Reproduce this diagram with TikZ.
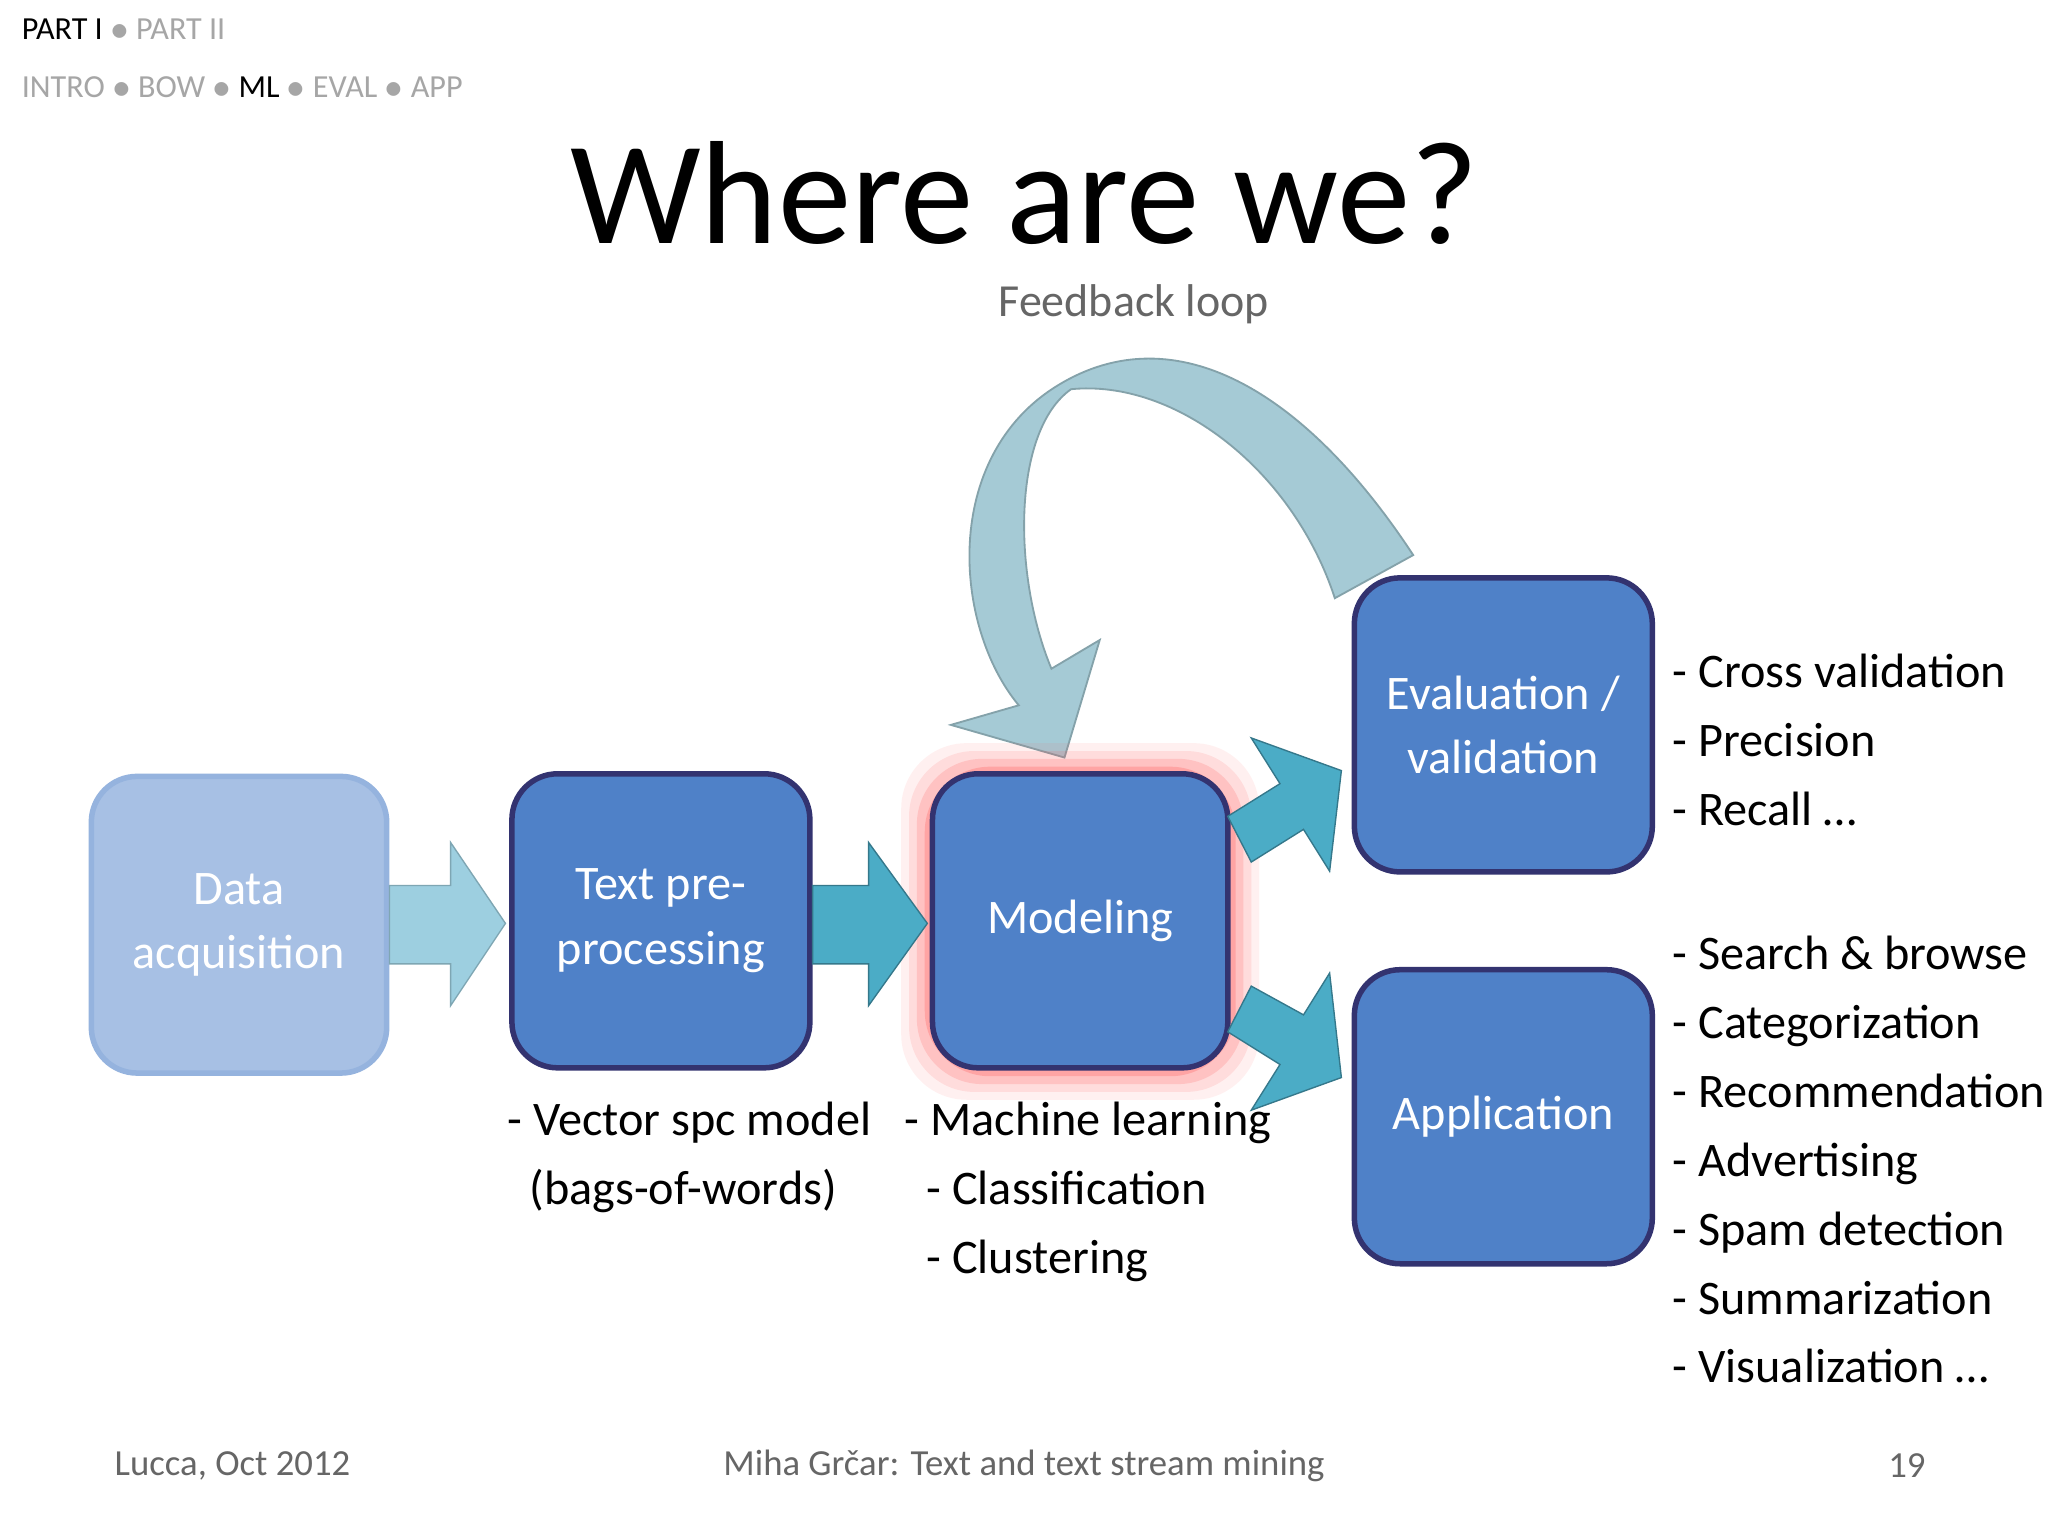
\documentclass[tikz,border=0pt]{standalone}
\usepackage{fontspec}
\setmainfont{Carlito}
\begin{document}
\begin{tikzpicture}[x=0.01cm,y=-0.01cm,
 box/.style={draw=blue!30!black!80, line width=1.2pt, rounded corners=0.35cm, fill=boxblue, text=white, align=center, inner sep=0, font=\fontsize{10.5}{12}\selectfont},
 lst/.style={anchor=north west, align=left, font=\fontsize{10.5}{12}\selectfont, inner sep=0},
 hdr/.style={anchor=west, font=\fontsize{7}{8}\selectfont, text=gray!70, inner sep=0}]
\definecolor{boxblue}{HTML}{4F81C8}
\definecolor{teal1}{HTML}{4BACC6}
\definecolor{teal2}{HTML}{9DCFE0}
\definecolor{fb}{HTML}{A5CAD5}
\useasboundingbox (0,0) rectangle (1568,1176);
\fill[white] (0,0) rectangle (1568,1176);
% header
\node[hdr] (p1) at (16,22) {\textcolor{black}{PART I} $\bullet$ PART II};
\node[hdr] (h) at (16,67) {INTRO $\bullet$ BOW $\bullet$ \textcolor{black}{ML} $\bullet$ EVAL $\bullet$ APP};
\node[font=\fontsize{32}{36}\selectfont] (title) at (784,148) {Where are we?};
\node[text=gray!80!black, font=\fontsize{10}{12}\selectfont] (fbl) at (868,233) {Feedback loop};
% feedback arrow
\fill[fb, draw=fb!80!black, line width=0.4pt] (1082,425) .. controls (1000,300) and (900,240) .. (810,295)
 .. controls (720,350) and (730,480) .. (780,540) -- (728,555) -- (815,580) -- (842,490) -- (805,512)
 .. controls (775,440) and (775,330) .. (820,298) .. controls (900,290) and (990,360) .. (1022,458) -- cycle;
% modeling glow
\foreach \i/\o in {24/0.08,18/0.12,12/0.18,6/0.25}
 \fill[red!70, opacity=\o, rounded corners=0.5cm] (714-\i,593-\i) rectangle (940+\i,818+\i);
% boxes
\node[box, minimum width=2.26cm, minimum height=2.27cm, fill=boxblue!50, draw=boxblue!60, text=white] (data) at (183,708) {Data\\[2pt]acquisition};
\node[box, minimum width=2.28cm, minimum height=2.25cm] (pre) at (506,705) {Text pre-\\[2pt]processing};
\node[box, minimum width=2.26cm, minimum height=2.25cm] (mod) at (827,705) {Modeling};
\node[box, minimum width=2.28cm, minimum height=2.25cm] (eval) at (1151,555) {Evaluation /\\[2pt]validation};
\node[box, minimum width=2.28cm, minimum height=2.25cm] (app) at (1151,855) {Application};
% straight arrows
\fill[teal2, draw=teal2!80!black, line width=0.3pt] (data.east|-0,678) -- (345,678) -- (345,645) -- (387,707) -- (345,770) -- (345,738) -- (data.east|-0,738) -- cycle;
\fill[teal1, draw=teal1!70!black, line width=0.3pt] (pre.east|-0,678) -- (665,678) -- (665,645) -- (710,707) -- (665,770) -- (665,738) -- (pre.east|-0,738) -- cycle;
% diagonal arrows
\fill[teal1, draw=teal1!70!black, line width=0.3pt] (940,625) -- (980,600) -- (958,565) -- (1027,590) -- (1018,667) -- (998,635) -- (958,660) -- cycle;
\fill[teal1, draw=teal1!70!black, line width=0.3pt] (940,790) -- (980,815) -- (958,850) -- (1027,825) -- (1018,745) -- (998,777) -- (958,755) -- cycle;
% lists
\node[lst] (l1) at (1280,500) {- Cross validation\\[3pt]- Precision\\[3pt]- Recall …};
\node[lst] (l2) at (1280,716) {- Search \& browse\\[3pt]- Categorization\\[3pt]- Recommendation\\[3pt]- Advertising\\[3pt]- Spam detection\\[3pt]- Summarization\\[3pt]- Visualization …};
\node[lst] (l3) at (388,843) {- Vector spc model\\[3pt]\ \ (bags-of-words)};
\node[lst] (l4) at (692,843) {- Machine learning\\[3pt]\ \ - Classification\\[3pt]\ \ - Clustering};
% footer
\node[text=gray!80!black, font=\fontsize{8}{10}\selectfont] (f1) at (178,1122) {Lucca, Oct 2012};
\node[text=gray!80!black, font=\fontsize{8}{10}\selectfont] (f2) at (784,1122) {Miha Grčar: Text and text stream mining};
\node[text=gray!80!black, font=\fontsize{8}{10}\selectfont] (f3) at (1460,1122) {19};
\end{tikzpicture}
\end{document}
